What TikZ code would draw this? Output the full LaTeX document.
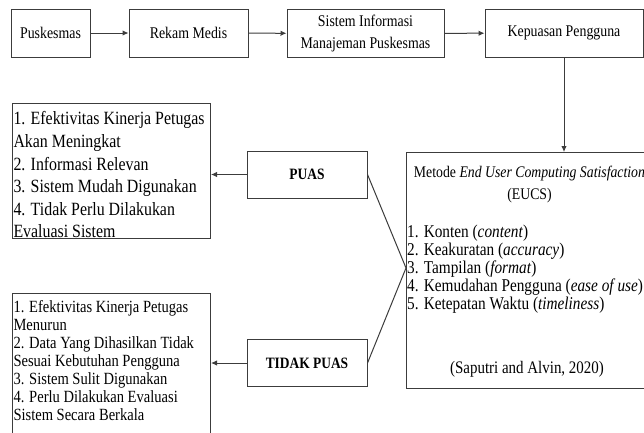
\documentclass[tikz,border=0pt]{standalone}
\usepackage{fontspec}
\setmainfont{Liberation Serif}[FakeStretch=0.85]
\usetikzlibrary{positioning,arrows.meta,calc}
\definecolor{lineGray}{HTML}{3C3C3C}
\tikzset{
    every node/.style={font=\fontsize{16.3}{22}\selectfont},
    flowbox/.style={draw=lineGray,line width=1pt,minimum height=48pt,align=center,inner sep=2pt},
    resultbox/.style={flowbox,font=\fontsize{15.8}{19}\selectfont\bfseries,minimum width=120pt,minimum height=47pt},
    listbox/.style={draw=lineGray,line width=1pt,anchor=north west,inner xsep=1pt,inner ysep=0pt,align=left},
    plain/.style={draw=lineGray,line width=1pt},
    every edge/.style={draw=lineGray,line width=1pt,-{Latex[length=6pt,width=5.5pt]}}
}
\begin{document}
\begin{tikzpicture}[x=1pt,y=-1pt]
\useasboundingbox (0,0) rectangle (644,432);
\clip (0,0) rectangle (644,432);
% alur utama
\node[flowbox,minimum width=79pt] (pusk) at (50.5,33) {Puskesmas};
\node[flowbox,minimum width=119pt] (rekam) at (188.5,33) {Rekam Medis};
\node[flowbox,minimum width=157pt] (sim) at (365.5,33.5) {Sistem Informasi\\Manajeman Puskesmas};
\node[flowbox,minimum width=158pt] (kepuasan) at (564,33) {Kepuasan Pengguna};
\path (pusk) edge (rekam)
      (rekam) edge (sim)
      (sim) edge (kepuasan);

% metode EUCS
\node[plain,minimum width=242pt,minimum height=236pt,anchor=north west,inner sep=0pt] (eucs) at (406,152) {};
\node[align=center,anchor=north,font=\fontsize{16.2}{22}\selectfont] (eucsTitle) at ($(eucs.north)+(2,11)$)
    {Metode \textit{End User Computing Satisfaction}\\(EUCS)};
\node[align=left,anchor=north west,inner sep=1pt,font=\fontsize{18}{18}\selectfont] (eucsList) at (406,223.5)
    {1. Konten (\textit{content})\\
     2. Keakuratan (\textit{accuracy})\\
     3. Tampilan (\textit{format})\\
     4. Kemudahan Pengguna (\textit{ease of use})\\
     5. Ketepatan Waktu (\textit{timeliness})};
\node[font=\fontsize{17.6}{20}\selectfont] (eucsRef) at (527,369) {(Saputri and Alvin, 2020)};
\path (kepuasan) edge (kepuasan.south |- eucs.north);

% hasil
\node[resultbox] (puas) at (307,174.5) {PUAS};
\node[resultbox] (tidak) at (307,363) {TIDAK PUAS};
\coordinate (eucsJoin) at ($(eucs.north west)+(0,116)$);
\draw[plain] (puas.east) -- (eucsJoin) -- (tidak.east);

\node[listbox,font=\fontsize{18.7}{22.6}\selectfont,inner ysep=3pt] (puasList) at (12,103)
    {\parbox[t][129pt][c]{196pt}{\raggedright\vspace*{8pt}
     1. Efektivitas Kinerja Petugas\\
     Akan Meningkat\\
     2. Informasi Relevan\\
     3. Sistem Mudah Digunakan\\
     4. Tidak Perlu Dilakukan\\
     Evaluasi Sistem}};
\node[listbox,font=\fontsize{17.1}{18}\selectfont,inner ysep=3pt] (tidakList) at (12,293)
    {\parbox[t][150pt][t]{196pt}{\raggedright\vspace*{4pt}
     1. Efektivitas Kinerja Petugas\\
     Menurun\\
     2. Data Yang Dihasilkan Tidak\\
     Sesuai Kebutuhan Pengguna\\
     3. Sistem Sulit Digunakan\\
     4. Perlu Dilakukan Evaluasi\\
     Sistem Secara Berkala}};
\path (puas) edge (puas.west -| puasList.east)
      (tidak) edge (tidak.west -| tidakList.east);
\end{tikzpicture}
\end{document}
